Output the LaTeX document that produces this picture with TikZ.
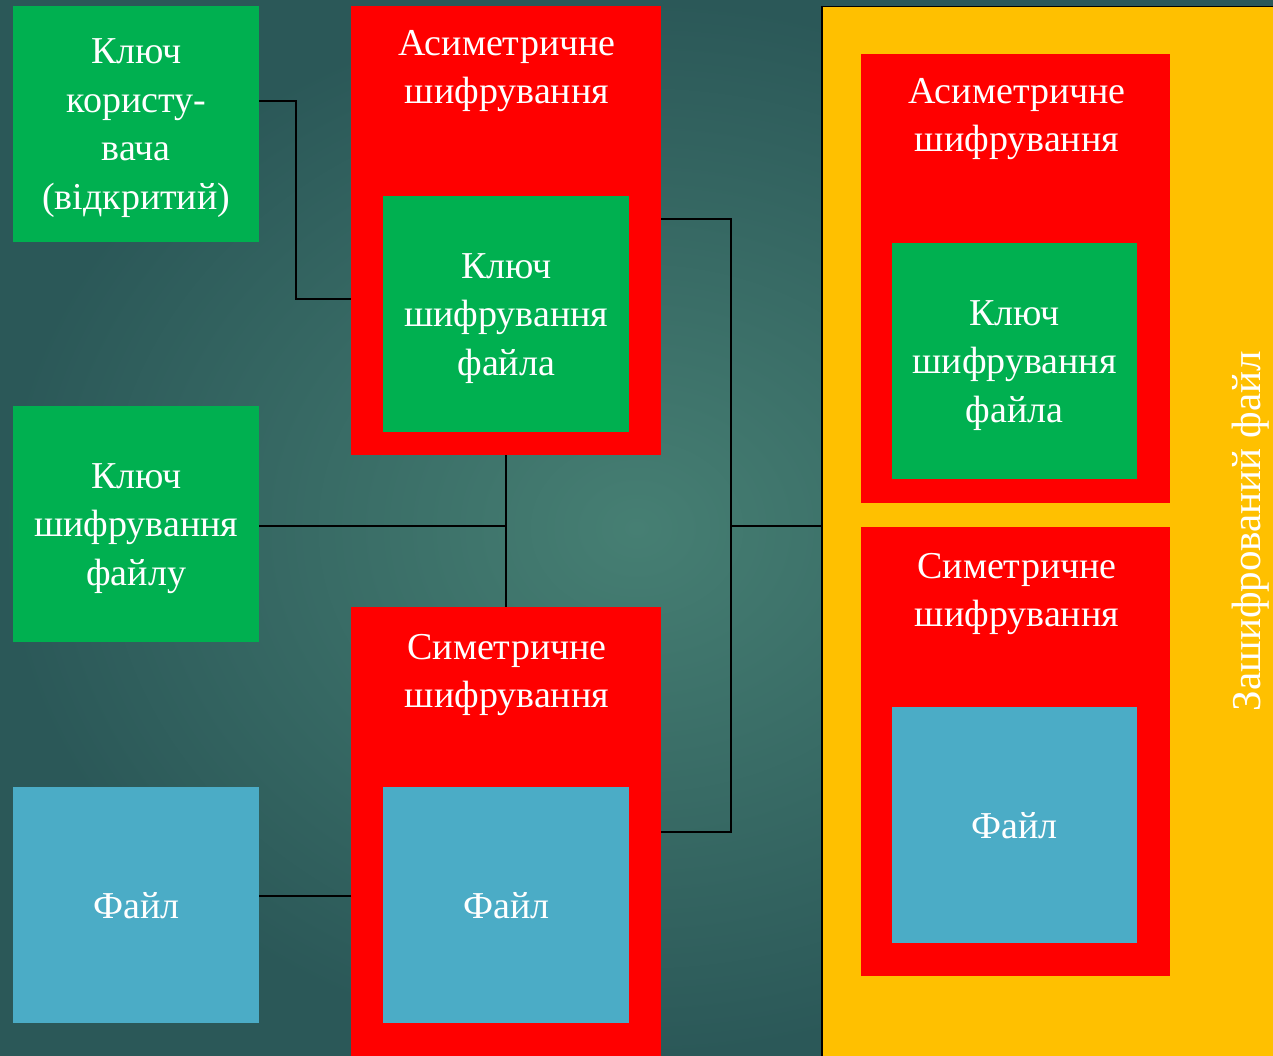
\documentclass[tikz,border=0pt]{standalone}
\usepackage{fontspec}
\setmainfont{Liberation Serif}
\usetikzlibrary{positioning}
\definecolor{keygreen}{HTML}{00B050}
\definecolor{fileblue}{HTML}{4BACC6}
\definecolor{cipherred}{HTML}{FF0000}
\definecolor{outyellow}{HTML}{FFC000}
\definecolor{bginner}{HTML}{467F73}
\definecolor{bgouter}{HTML}{2B5858}
\tikzset{
  box/.style={inner sep=0pt, minimum width=246pt, minimum height=236pt, text depth=0pt,
    text=white, align=center, font=\fontsize{38}{48.5}\selectfont},
  keybox/.style={box, fill=keygreen},
  filebox/.style={box, fill=fileblue},
  cipherbox/.style={fill=cipherred, inner sep=0pt, minimum width=310pt, minimum height=449pt},
  boxtitle/.style={text=white, align=center, inner sep=0pt, font=\fontsize{38}{48}\selectfont},
  wire/.style={draw=black, line width=2pt}
}
\begin{document}
\begin{tikzpicture}[x=1pt,y=-1pt]
    \useasboundingbox (0,0) rectangle (1273,1056);
    \shade[inner color=bginner, outer color=bgouter] (0,0) rectangle (1273,1056);
% left column
    \node[keybox, anchor=north west] (userkey) at (13,6) {Ключ\\користу-\\вача\\(відкритий)};
    \node[keybox, anchor=north west] (filekey) at (13,406) {Ключ\\шифрування\\файлу};
    \node[filebox, anchor=north west] (file) at (13,787) {Файл};
% middle column
    \node[cipherbox, anchor=north west] (asym) at (351,6) {};
    \node[boxtitle] (asymtitle) at (507,71) {Асиметричне\\шифрування};
    \node[keybox, anchor=north west] (asymkey) at (383,196) {Ключ\\шифрування\\файла};
    \node[cipherbox, anchor=north west] (sym) at (351,607) {};
    \node[boxtitle] (symtitle) at (507,675) {Симетричне\\шифрування};
    \node[filebox, anchor=north west] (symfile) at (383,787) {Файл};
% encrypted file
    \node[fill=outyellow, draw=black, line width=1.5pt, inner sep=0pt, anchor=north west,
          minimum width=470pt, minimum height=1070pt] (encfile) at (821,6) {};
    \node[cipherbox, anchor=north west, minimum width=309pt] (encasym) at (861,54) {};
    \node[boxtitle] (encasymtitle) at (1017,119) {Асиметричне\\шифрування};
    \node[keybox, anchor=north west, minimum width=245pt] (enckey) at (892,243) {Ключ\\шифрування\\файла};
    \node[cipherbox, anchor=north west, minimum width=309pt] (encsym) at (861,527) {};
    \node[boxtitle] (encsymtitle) at (1017,594) {Симетричне\\шифрування};
    \node[filebox, anchor=north west, minimum width=245pt] (encdata) at (892,707) {Файл};
    \node[boxtitle, rotate=90, font=\fontsize{41}{48}\selectfont] (enclabel) at (1251,531) {Зашифрований файл};
% connectors
    \draw[wire] ([yshift=23pt]userkey.east) -- ++(37,0) |- ([yshift=-68.5pt]asym.west);
    \draw[wire] ([yshift=11.5pt]asym.east) -- ++(70,0) coordinate (join) |- (sym.east);
    \draw[wire] ([yshift=-2pt]join |- filekey.east) -- ([yshift=-2pt]encfile.west |- filekey.east);
    \draw[wire] (asym.south) -- (sym.north);
    \draw[wire] ([yshift=-2pt]filekey.east) -- ([yshift=-2pt]asym.south |- filekey.east);
    \coordinate (fileout) at ([yshift=9pt]file.east);
    \draw[wire] (fileout) -- (sym.west |- fileout);
\end{tikzpicture}
\end{document}
